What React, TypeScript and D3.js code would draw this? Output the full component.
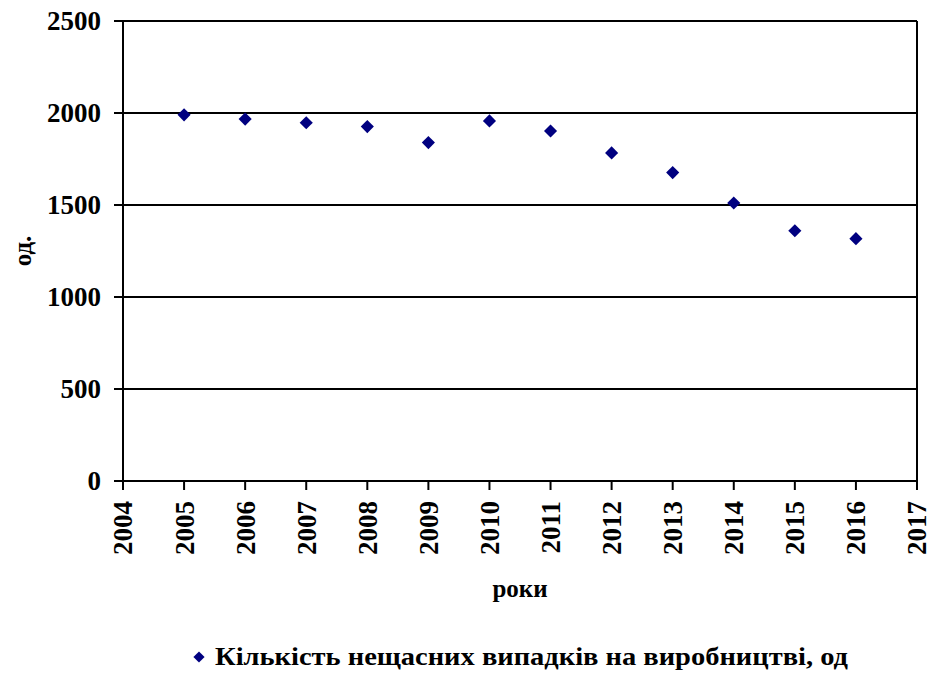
import React from "react";
import * as d3 from "d3";

const years = [2005, 2006, 2007, 2008, 2009, 2010, 2011, 2012, 2013, 2014, 2015, 2016];
const accidents = [1990, 1967, 1947, 1926, 1839, 1957, 1902, 1783, 1676, 1511, 1360, 1317];
const yTicks = [0, 500, 1000, 1500, 2000, 2500];
const xTicks = [2004, 2005, 2006, 2007, 2008, 2009, 2010, 2011, 2012, 2013, 2014, 2015, 2016, 2017];
const seriesName = "Кількість нещасних випадків на виробництві, од";
const xTitle = "роки";
const yTitle = "од.";

const W = 927;
const H = 675;
const left = 123;
const right = 917;
const top = 21;
const bottom = 481;
const font = "'Liberation Serif', 'Times New Roman', serif";
const navy = "#000080";

export default function App() {
  const x = d3.scaleLinear().domain([2004, 2017]).range([left, right]);
  const y = d3.scaleLinear().domain([0, 2500]).range([bottom, top]);
  const diamond = d3.symbol().type(d3.symbolDiamond2).size(110)();
  const diamondSmall = d3.symbol().type(d3.symbolDiamond2).size(80)();

  return (
    <svg width={W} height={H} style={{ position: "absolute", left: 0, top: 0, background: "#fff" }}>
      <rect x={0} y={0} width={W} height={H} fill="#fff" />
      {yTicks.map((t) => (
        <g key={t}>
          <line x1={left - 9} x2={right} y1={y(t)} y2={y(t)} stroke="#000" strokeWidth={2} />
          <text
            x={101}
            y={y(t)}
            dy="0.35em"
            textAnchor="end"
            fontFamily={font}
            fontWeight="bold"
            fontSize={27}
          >
            {t}
          </text>
        </g>
      ))}
      <line x1={left} x2={left} y1={top} y2={bottom} stroke="#000" strokeWidth={2} />
      <line x1={right} x2={right} y1={top} y2={bottom} stroke="#000" strokeWidth={2} />
      {xTicks.map((t) => (
        <g key={t}>
          <line x1={x(t)} x2={x(t)} y1={bottom} y2={bottom + 9} stroke="#000" strokeWidth={2} />
          <text
            transform={`translate(${x(t)},${501}) rotate(-90)`}
            dy="0.35em"
            textAnchor="end"
            fontFamily={font}
            fontWeight="bold"
            fontSize={27}
          >
            {t}
          </text>
        </g>
      ))}
      {years.map((yr, i) => (
        <path key={yr} d={diamond} transform={`translate(${x(yr)},${y(accidents[i])})`} fill={navy} />
      ))}
      <text
        x={(left + right) / 2}
        y={597}
        textAnchor="middle"
        fontFamily={font}
        fontWeight="bold"
        fontSize={25}
      >
        {xTitle}
      </text>
      <text
        transform={`translate(${22},${251}) rotate(-90)`}
        dy="0.35em"
        textAnchor="middle"
        fontFamily={font}
        fontWeight="bold"
        fontSize={25}
      >
        {yTitle}
      </text>
      <path d={diamondSmall} transform={`translate(${199},${657})`} fill={navy} />
      <text
        x={215}
        y={665}
        fontFamily={font}
        fontWeight="bold"
        fontSize={25}
        textLength={633}
        lengthAdjust="spacingAndGlyphs"
      >
        {seriesName}
      </text>
    </svg>
  );
}
